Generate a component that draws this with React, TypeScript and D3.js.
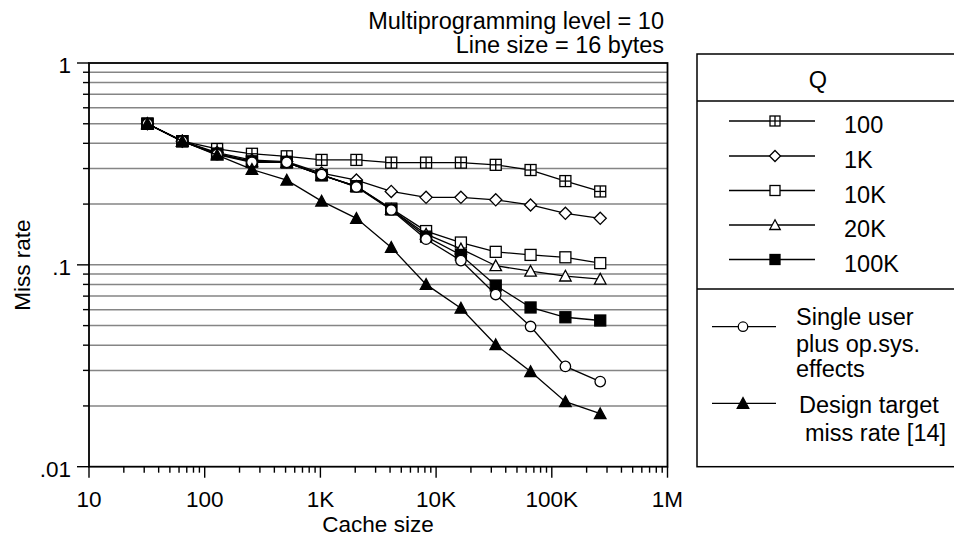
import React from "react";
import * as d3 from "d3";

const cacheSizes = [32, 64, 128, 256, 512, 1024, 2048, 4096, 8192, 16384, 32768, 65536, 131072, 262144];

const q100 = [0.5, 0.41, 0.375, 0.355, 0.345, 0.331, 0.331, 0.321, 0.321, 0.321, 0.313, 0.295, 0.26, 0.231];
const q1k = [0.5, 0.41, 0.36, 0.33, 0.325, 0.285, 0.263, 0.231, 0.216, 0.216, 0.21, 0.198, 0.18, 0.17];
const q10k = [0.5, 0.41, 0.355, 0.325, 0.322, 0.278, 0.245, 0.19, 0.147, 0.129, 0.116, 0.112, 0.109, 0.102];
const q20k = [0.5, 0.41, 0.355, 0.325, 0.322, 0.278, 0.245, 0.188, 0.142, 0.12, 0.099, 0.093, 0.088, 0.085];
const q100k = [0.5, 0.41, 0.355, 0.325, 0.322, 0.278, 0.245, 0.188, 0.138, 0.112, 0.079, 0.0615, 0.055, 0.053];
const singleUser = [0.5, 0.41, 0.352, 0.322, 0.322, 0.28, 0.243, 0.187, 0.134, 0.105, 0.0713, 0.0495, 0.0314, 0.0264];
const designTarget = [0.5, 0.41, 0.35, 0.297, 0.263, 0.207, 0.17, 0.122, 0.08, 0.061, 0.0402, 0.0296, 0.021, 0.0183];

const xTickValues = [10, 100, 1000, 10000, 100000, 1000000];
const xTickLabels = ["10", "100", "1K", "10K", "100K", "1M"];
const yTickValues = [1, 0.1, 0.01];
const yTickLabels = ["1", ".1", ".01"];

const qLegendLabels = ["100", "1K", "10K", "20K", "100K"];

type MarkerType = "plusSquare" | "diamond" | "square" | "triangle" | "filledSquare" | "circle" | "filledTriangle";

const series: { values: number[]; marker: MarkerType }[] = [
  { values: q100, marker: "plusSquare" },
  { values: q1k, marker: "diamond" },
  { values: q10k, marker: "square" },
  { values: q20k, marker: "triangle" },
  { values: q100k, marker: "filledSquare" },
  { values: singleUser, marker: "circle" },
  { values: designTarget, marker: "filledTriangle" },
];

const FONT = "'Liberation Sans', Arial, Helvetica, sans-serif";

function Marker({ type, x, y, s }: { type: MarkerType; x: number; y: number; s: number }) {
  const h = s / 2;
  const common = { stroke: "#000", strokeWidth: 1.3 };
  switch (type) {
    case "plusSquare":
      return (
        <g>
          <rect x={x - h} y={y - h} width={s} height={s} fill="#fff" {...common} />
          <line x1={x} y1={y - h} x2={x} y2={y + h} {...common} />
          <line x1={x - h} y1={y} x2={x + h} y2={y} {...common} />
        </g>
      );
    case "diamond":
      return (
        <path
          d={`M${x},${y - h * 1.1}L${x + h * 1.1},${y}L${x},${y + h * 1.1}L${x - h * 1.1},${y}Z`}
          fill="#fff"
          {...common}
        />
      );
    case "square":
      return <rect x={x - h} y={y - h} width={s} height={s} fill="#fff" {...common} />;
    case "filledSquare":
      return <rect x={x - h} y={y - h} width={s} height={s} fill="#000" {...common} />;
    case "circle":
      return <circle cx={x} cy={y} r={h * 0.95} fill="#fff" {...common} />;
    case "triangle":
      return (
        <path d={`M${x},${y - h * 1.05}L${x + h * 1.05},${y + h * 0.9}L${x - h * 1.05},${y + h * 0.9}Z`} fill="#fff" {...common} />
      );
    case "filledTriangle":
      return (
        <path d={`M${x},${y - h * 1.05}L${x + h * 1.05},${y + h * 0.9}L${x - h * 1.05},${y + h * 0.9}Z`} fill="#000" {...common} />
      );
  }
  return null;
}

export default function App() {
  const W = 954;
  const H = 544;
  const left = 89;
  const right = 667.5;
  const top = 63;
  const bottom = 466.7;

  const x = d3.scaleLog().domain([10, 1e6]).range([left, right]);
  const y = d3.scaleLog().domain([0.01, 1]).range([bottom, top]);

  const minorY: number[] = [];
  for (const dec of [0.01, 0.1]) {
    for (let k = 2; k <= 9; k++) minorY.push(dec * k);
  }
  const minorX: number[] = [];
  for (const dec of [10, 100, 1000, 10000, 100000]) {
    for (let k = 2; k <= 9; k++) minorX.push(dec * k);
  }
  const gridY = [...minorY, 0.1];

  const line = d3
    .line<number>()
    .x((_, i) => x(cacheSizes[i]))
    .y((d) => y(d));

  const legendRowsY = [121, 156, 190.5, 225, 259.5];

  return (
    <svg
      width={W}
      height={H}
      style={{ position: "absolute", left: 0, top: 0, background: "#fff" }}
      fontFamily={FONT}
    >
      <rect x={0} y={0} width={W} height={H} fill="#fff" />
      {/* title */}
      <text x={664} y={29} fontSize={23.5} textAnchor="end" fill="#000">
        Multiprogramming level = 10
      </text>
      <text x={664} y={53} fontSize={23.5} textAnchor="end" fill="#000">
        Line size = 16 bytes
      </text>

      {/* gridlines */}
      {gridY.map((v, i) => (
        <line key={"g" + i} x1={left} x2={right} y1={y(v)} y2={y(v)} stroke="#858585" strokeWidth={1.5} />
      ))}

      {/* y ticks */}
      {minorY.map((v, i) => (
        <line key={"ym" + i} x1={left - 6} x2={left} y1={y(v)} y2={y(v)} stroke="#000" strokeWidth={1.4} />
      ))}
      {yTickValues.map((v, i) => (
        <g key={"yt" + i}>
          <line x1={left - 12} x2={left} y1={y(v)} y2={y(v)} stroke="#000" strokeWidth={1.4} />
          <text x={71} y={y(v) + 10} fontSize={22.5} textAnchor="end" fill="#000">
            {yTickLabels[i]}
          </text>
        </g>
      ))}

      {/* x ticks */}
      {minorX.map((v, i) => (
        <line key={"xm" + i} x1={x(v)} x2={x(v)} y1={bottom} y2={bottom + 6} stroke="#000" strokeWidth={1.4} />
      ))}
      {xTickValues.map((v, i) => (
        <g key={"xt" + i}>
          <line x1={x(v)} x2={x(v)} y1={bottom} y2={bottom + 11} stroke="#000" strokeWidth={1.4} />
          <text x={x(v)} y={507} fontSize={22.5} textAnchor="middle" fill="#000">
            {xTickLabels[i]}
          </text>
        </g>
      ))}

      {/* frame */}
      <rect x={left} y={top} width={right - left} height={bottom - top} fill="none" stroke="#000" strokeWidth={1.8} />

      {/* axis labels */}
      <text x={378} y={532} fontSize={22.5} textAnchor="middle" fill="#000">
        Cache size
      </text>
      <text transform={`translate(30,265) rotate(-90)`} fontSize={22.5} textAnchor="middle" fill="#000">
        Miss rate
      </text>

      {/* series */}
      {series.map((s, si) => (
        <g key={"s" + si}>
          <path d={line(s.values) || ""} fill="none" stroke="#000" strokeWidth={1.3} />
          {s.values.map((v, i) => (
            <Marker key={i} type={s.marker} x={x(cacheSizes[i])} y={y(v)} s={11} />
          ))}
        </g>
      ))}

      {/* legend */}
      <rect x={697} y={54} width={320} height={412.7} fill="none" stroke="#000" strokeWidth={1.5} />
      <line x1={697} x2={W} y1={101} y2={101} stroke="#000" strokeWidth={1.5} />
      <line x1={697} x2={W} y1={289} y2={289} stroke="#000" strokeWidth={1.5} />
      <text x={818} y={88} fontSize={23.5} textAnchor="middle" fill="#000">
        Q
      </text>
      {qLegendLabels.map((lab, i) => (
        <g key={"lq" + i}>
          <line x1={729} x2={815} y1={legendRowsY[i]} y2={legendRowsY[i]} stroke="#000" strokeWidth={1.3} />
          <Marker type={series[i].marker} x={775} y={legendRowsY[i]} s={10} />
          <text x={844} y={legendRowsY[i] + 12} fontSize={23.5} fill="#000">
            {lab}
          </text>
        </g>
      ))}
      <line x1={712} x2={776} y1={326.7} y2={326.7} stroke="#000" strokeWidth={1.3} />
      <Marker type="circle" x={743} y={326.7} s={10} />
      <text x={796} y={325} fontSize={23.5} fill="#000">Single user</text>
      <text x={796} y={351.5} fontSize={23.5} fill="#000">plus op.sys.</text>
      <text x={796} y={377} fontSize={23.5} fill="#000">effects</text>

      <line x1={712} x2={776} y1={403.3} y2={403.3} stroke="#000" strokeWidth={1.3} />
      <Marker type="filledTriangle" x={743} y={403.3} s={11} />
      <text x={799} y={413} fontSize={23.5} fill="#000">Design target</text>
      <text x={805} y={441} fontSize={23.5} fill="#000">miss rate [14]</text>
    </svg>
  );
}
